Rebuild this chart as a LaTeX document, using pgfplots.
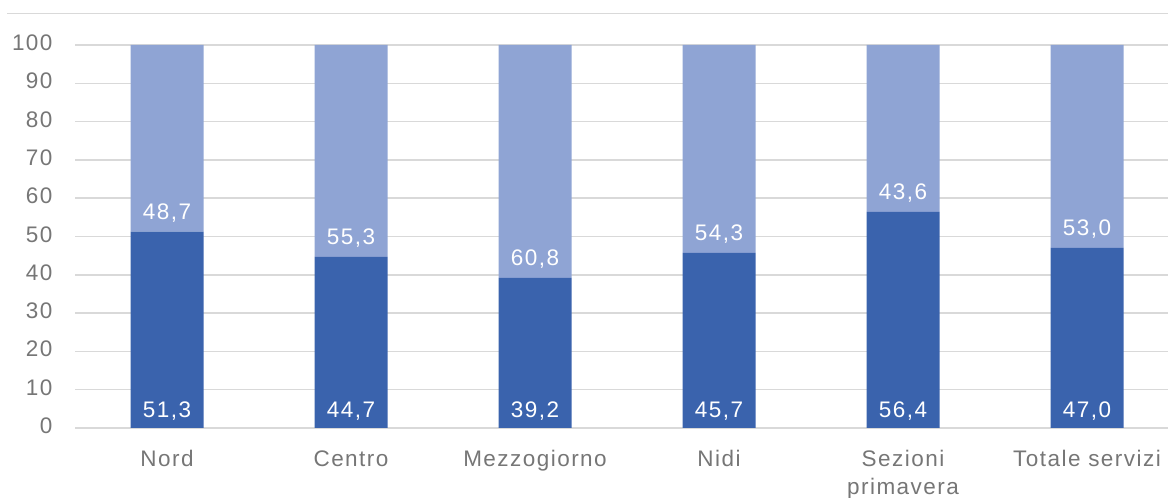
\documentclass[border=0pt]{standalone}
\usepackage{pgfplots}
\pgfplotsset{compat=1.18}
\usepackage{fontspec}
\setmainfont{Liberation Sans}[LetterSpace=6.5]
\definecolor{dark}{RGB}{58,99,173}
\definecolor{light}{RGB}{143,164,212}
\definecolor{gridc}{RGB}{217,217,217}
\definecolor{txt}{RGB}{118,118,118}
\begin{document}
\begin{tikzpicture}[x=1bp,y=1bp]
\useasboundingbox (0,0) rectangle (1168,498);
\draw[gridc, line width=1.5bp] (7,484.5) -- (1168,484.5);
\begin{axis}[at={(75bp,70bp)}, anchor=south west, scale only axis,
  width=1093bp, height=383bp,
  ybar stacked, bar width=73bp,
  xmin=-0.5, xmax=5.44, ymin=0, ymax=100,
  ytick={0,10,...,100}, xtick={0,...,5},
  xticklabels={Nord,Centro,Mezzogiorno,Nidi,{Sezioni\\primavera},Totale servizi},
  ymajorgrids, grid style={gridc, line width=1.5bp},
  axis line style={draw=none}, tick style={draw=none}, major tick length=0pt,
  /pgf/number format/assume math mode=true,
  typeset ticklabels with strut,
  ticklabel style={color=txt, font=\fontsize{22.5bp}{28bp}\selectfont},
  xticklabel style={align=center, yshift=-15bp},
  yticklabel style={xshift=-19bp},
  clip=false]
\addplot[fill=dark, draw=none] coordinates {(0,51.3) (1,44.7) (2,39.2) (3,45.7) (4,56.4) (5,47.0)};
\addplot[fill=light, draw=none] coordinates {(0,48.7) (1,55.3) (2,60.8) (3,54.3) (4,43.6) (5,53.0)};
\end{axis}
\begin{axis}[at={(75bp,70bp)}, anchor=south west, scale only axis,
  width=1093bp, height=383bp, hide axis,
  xmin=-0.5, xmax=5.44, ymin=0, ymax=100, clip=false]
\addplot[draw=none, mark=none, nodes near coords, point meta=explicit symbolic,
  nodes near coords style={white, anchor=base, yshift=10.5bp, font=\fontsize{22.5bp}{27bp}\selectfont}]
  coordinates {(0,0)[51,3] (1,0)[44,7] (2,0)[39,2] (3,0)[45,7] (4,0)[56,4] (5,0)[47,0]};
\addplot[draw=none, mark=none, nodes near coords, point meta=explicit symbolic,
  nodes near coords style={white, anchor=base, yshift=12bp, font=\fontsize{22.5bp}{27bp}\selectfont}]
  coordinates {(0,51.3)[48,7] (1,44.7)[55,3] (2,39.2)[60,8] (3,45.7)[54,3] (4,56.4)[43,6] (5,47.0)[53,0]};
\end{axis}
\end{tikzpicture}
\end{document}
